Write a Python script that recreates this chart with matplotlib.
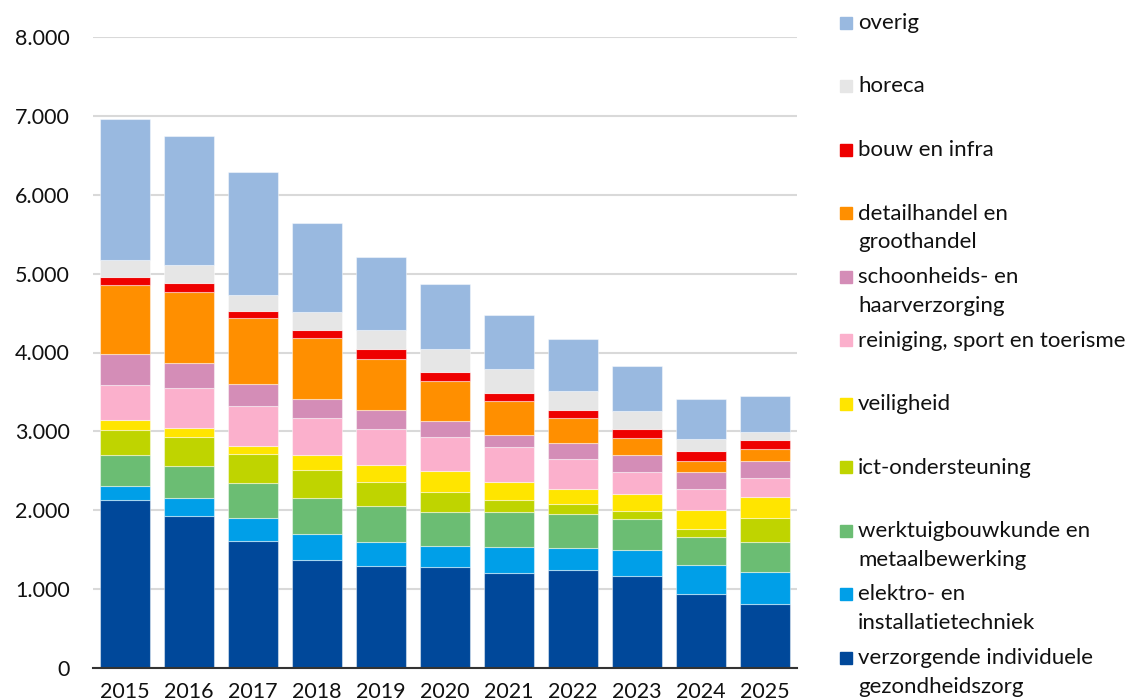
import numpy as np
import matplotlib
matplotlib.use("Agg")
from matplotlib import pyplot as plt
from matplotlib.patches import Rectangle

plt.rcParams['font.family'] = ['Lato', 'DejaVu Sans']

years = ['2015', '2016', '2017', '2018', '2019', '2020', '2021', '2022', '2023', '2024', '2025']

# bottom to top
sectors = [
    'verzorgende individuele\ngezondheidszorg',
    'elektro- en\ninstallatietechniek',
    'werktuigbouwkunde en\nmetaalbewerking',
    'ict-ondersteuning',
    'veiligheid',
    'reiniging, sport en toerisme',
    'schoonheids- en\nhaarverzorging',
    'detailhandel en\ngroothandel',
    'bouw en infra',
    'horeca',
    'overig',
]

verzorgende = [2130, 1930, 1615, 1375, 1295, 1285, 1200, 1240, 1170, 935, 810]
elektro = [180, 220, 285, 320, 300, 265, 330, 280, 320, 375, 405]
werktuig = [385, 415, 440, 465, 455, 430, 450, 430, 395, 345, 380]
ict = [325, 370, 375, 345, 310, 255, 150, 130, 105, 110, 305]
veiligheid = [120, 105, 105, 195, 220, 260, 230, 185, 210, 235, 265]
reiniging = [445, 505, 505, 475, 450, 435, 445, 390, 285, 275, 240]
schoonheid = [390, 325, 280, 235, 240, 200, 150, 195, 215, 205, 220]
detailhandel = [885, 900, 830, 780, 650, 505, 430, 325, 210, 145, 150]
bouw = [95, 115, 95, 100, 120, 120, 105, 100, 120, 120, 118]
horeca = [220, 230, 200, 220, 250, 290, 295, 240, 225, 160, 100]
overig = [1785, 1630, 1560, 1135, 920, 820, 690, 655, 575, 500, 460]

series = [verzorgende, elektro, werktuig, ict, veiligheid, reiniging,
          schoonheid, detailhandel, bouw, horeca, overig]

colors = ['#00489A', '#009FE8', '#6BBD73', '#BFD400', '#FFE500', '#FBB0CC',
          '#D48DB7', '#FF8F00', '#EE0000', '#E6E6E6', '#99B9E0']

fig = plt.figure(figsize=(11.26, 7.0), dpi=100)
ax = fig.add_axes([93 / 1126, 32 / 700, 704 / 1126, 631 / 700])

x = np.arange(len(years))
bottom = np.zeros(len(years))
for vals, col in zip(series, colors):
    vals = np.array(vals, dtype=float)
    ax.bar(x, vals, 0.77, bottom=bottom, color=col,
           edgecolor=(1, 1, 1, 0.45), linewidth=0.8, zorder=3)
    bottom += vals

ax.set_xlim(-0.5, len(years) - 0.5)
ax.set_ylim(0, 8000)
ax.set_yticks(np.arange(0, 8001, 1000))
ax.set_yticklabels([f'{v:,}'.replace(',', '.') for v in range(0, 8001, 1000)])
ax.set_xticks(x)
ax.set_xticklabels(years)
ax.tick_params(axis='both', length=0, labelsize=15.5, colors='#111111')
ax.tick_params(axis='y', pad=16.5)
ax.tick_params(axis='x', pad=10)
ax.grid(axis='y', color='#d9d9d9', linewidth=1.5, zorder=0)
for s in ['top', 'right', 'left']:
    ax.spines[s].set_visible(False)
ax.spines['bottom'].set_color('#333333')
ax.spines['bottom'].set_linewidth(1.5)
ax.spines['bottom'].set_zorder(4)

# legend, top entry first, every entry on a fixed step
W, H = 1126, 700
y0 = 22.5
step = 63.5
for i, (name, col) in enumerate(zip(sectors[::-1], colors[::-1])):
    yc = y0 + i * step
    fig.patches.append(Rectangle((840 / W, 1 - (yc + 6) / H), 12 / W, 12 / H,
                                 transform=fig.transFigure, color=col))
    fig.text(858 / W, 1 - (yc - 9.5) / H, name, fontsize=16, va='top',
             ha='left', color='#111111', linespacing=1.54)

fig.savefig('out.png', dpi=100)
